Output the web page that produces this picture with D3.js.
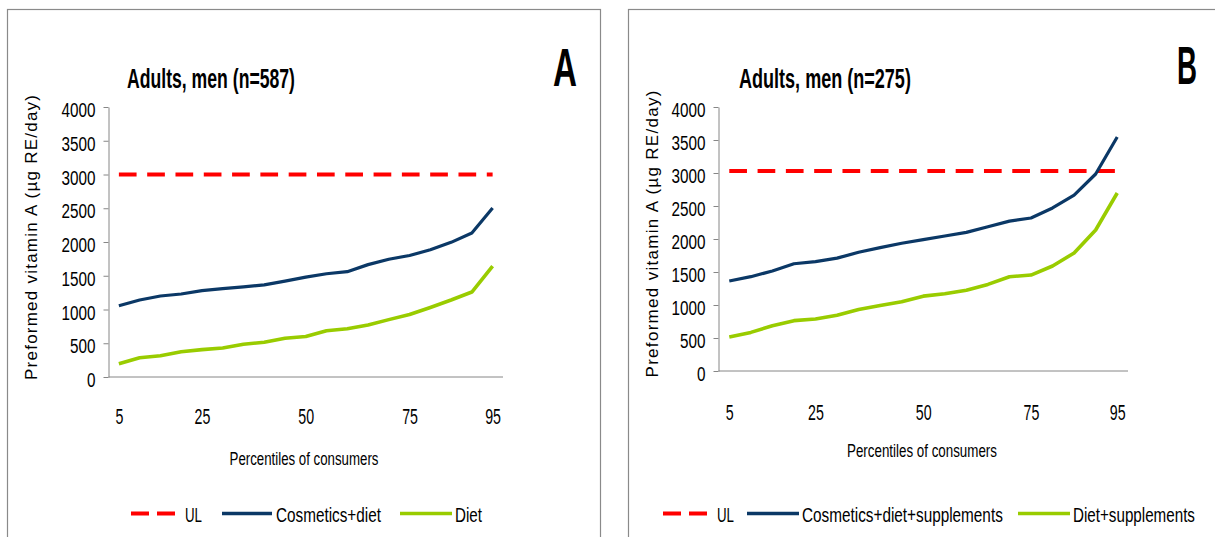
<!DOCTYPE html>
<html>
<head>
<meta charset="utf-8">
<script src="https://cdn.jsdelivr.net/npm/d3@7"></script>
<style>
  html, body { margin: 0; padding: 0; background: #fff; }
  svg { display: block; font-family: "Liberation Sans", Arial, sans-serif; }
</style>
</head>
<body>
<svg id="chart" width="1215" height="537"></svg>
<script>
// ---------------- data ----------------
const percentiles = [5, 10, 15, 20, 25, 30, 35, 40, 45, 50, 55, 60, 65, 70, 75, 80, 85, 90, 95];
const xTickLabels = [5, 25, 50, 75, 95];
const yTicks = [0, 500, 1000, 1500, 2000, 2500, 3000, 3500, 4000];

// Panel A – Adults, men (n=587)
const cosmeticsDietA = [1055, 1140, 1200, 1230, 1280, 1310, 1335, 1365, 1420, 1480, 1530, 1560, 1665, 1745, 1800, 1885, 1995, 2133, 2503];
const dietA          = [195, 285, 315, 375, 405, 430, 485, 515, 575, 600, 685, 715, 770, 850, 925, 1030, 1140, 1259, 1644];
const ulA = 3000;

// Panel B – Adults, men (n=275)
const cosmeticsDietSuppB = [1364, 1429, 1515, 1625, 1658, 1710, 1799, 1869, 1935, 1990, 2045, 2100, 2186, 2271, 2318, 2470, 2666, 2985, 3545];
const dietSuppB          = [515, 585, 686, 763, 788, 844, 931, 992, 1048, 1134, 1170, 1225, 1312, 1429, 1454, 1591, 1788, 2136, 2697];
const ulB = 3030;

const panelLetters = ["A", "B"];
const panelTitles = ["Adults, men (n=587)", "Adults, men (n=275)"];
const legendLabelsA = ["UL", "Cosmetics+diet", "Diet"];
const legendLabelsB = ["UL", "Cosmetics+diet+supplements", "Diet+supplements"];
const yAxisTitle = "Preformed vitamin A (\u00b5g RE/day)";
const xAxisTitle = "Percentiles of consumers";

// ---------------- layout ----------------
const COL = { ul: "#ff0000", cos: "#0b3866", diet: "#99cc00", axis: "#868686", border: "#8a8a8a", text: "#000" };

const panels = [
  {
    letter: panelLetters[0], title: panelTitles[0], ul: ulA,
    series: [cosmeticsDietA, dietA], legendLabels: legendLabelsA,
    border: { x: 7.5, y: 9.5, w: 593, h: 600 },
    xr: [108.5, 503], yr: [377, 107], xPad: 31,
    yTitle: { bx: 37, cy: 237.5, len: 285 },
    titleBox: { x: 127, base: 88, w: 168 },
    letterBox: { x: 553, base: 86, w: 24 },
    xTitle: { cx: 304, base: 465, w: 149 },
    legend: [[131, 176, 185, 17], [222, 272, 276, 105], [400, 452, 455, 27]]
  },
  {
    letter: panelLetters[1], title: panelTitles[1], ul: ulB,
    series: [cosmeticsDietSuppB, dietSuppB], legendLabels: legendLabelsB,
    border: { x: 628.5, y: 9.5, w: 700, h: 600 },
    xr: [718.5, 1128], yr: [371, 107], xPad: 33.5,
    yTitle: { bx: 658, cy: 234, len: 287 },
    titleBox: { x: 739, base: 88, w: 172 },
    letterBox: { x: 1177, base: 84, w: 20 },
    xTitle: { cx: 922, base: 457, w: 150 },
    legend: [[663, 708, 717, 17], [747, 799, 802, 201], [1018, 1070, 1073, 122]]
  }
];

const svg = d3.select("#chart");

// condense a text horizontally to a target width via a transform (keeps a true bounding box)
function fitWidth(sel, w) {
  sel.each(function () {
    const t = d3.select(this);
    const x = +t.attr("x") || 0, y = +t.attr("y") || 0;
    const L = this.getComputedTextLength();
    t.attr("x", 0).attr("y", 0)
     .attr("transform", `translate(${x},${y}) scale(${w / L},1)`);
  });
}
function squeeze(sel, k) {
  sel.each(function () {
    const L = this.getComputedTextLength();
    d3.select(this).attr("textLength", L * k).attr("lengthAdjust", "spacingAndGlyphs");
  });
}

panels.forEach(p => {
  const g = svg.append("g");

  // border (open at the bottom / right, as cropped in the reference)
  g.append("rect")
    .attr("x", p.border.x).attr("y", p.border.y)
    .attr("width", p.border.w).attr("height", p.border.h)
    .attr("fill", "none").attr("stroke", COL.border).attr("stroke-width", 1.2);

  const x = d3.scalePoint().domain(percentiles).range(p.xr).padding(0.5);
  const y = d3.scaleLinear().domain([0, 4000]).range(p.yr);

  // y axis
  const yAx = g.append("g").attr("transform", `translate(${p.xr[0]},0)`)
    .call(d3.axisLeft(y).tickValues(yTicks).tickFormat(d3.format("d"))
      .tickSize(5).tickPadding(8).tickSizeOuter(0));
  yAx.select(".domain").attr("stroke", COL.axis);
  yAx.selectAll(".tick line").attr("stroke", COL.axis);
  const yt = yAx.selectAll(".tick text")
    .attr("font-family", '"Liberation Sans", Arial, sans-serif')
    .attr("font-size", 20).attr("fill", COL.text).attr("dy", "0.48em");
  const refY = yt.filter(d => d === 4000).node().getComputedTextLength();
  squeeze(yt, 34 / refY);

  // x axis
  const xAx = g.append("g").attr("transform", `translate(0,${p.yr[0]})`)
    .call(d3.axisBottom(x).tickValues(xTickLabels).tickSize(0).tickPadding(p.xPad).tickSizeOuter(0));
  xAx.select(".domain").attr("stroke", COL.axis).attr("d", `M${p.xr[0]},0H${p.xr[1]}`);
  const xt = xAx.selectAll(".tick text")
    .attr("font-family", '"Liberation Sans", Arial, sans-serif')
    .attr("font-size", 22).attr("fill", COL.text);
  const refX = xt.filter(d => d === 25).node().getComputedTextLength();
  squeeze(xt, 15.8 / refX);

  // UL dashed line
  const ulLine = d3.line().x(d => x(d)).y(() => y(p.ul));
  g.append("path").datum([percentiles[0], percentiles[percentiles.length - 1]])
    .attr("d", ulLine).attr("fill", "none")
    .attr("stroke", COL.ul).attr("stroke-width", 4).attr("stroke-dasharray", "17.7,10.6");

  // series lines
  const line = d3.line().x((d, i) => x(percentiles[i])).y(d => y(d));
  [COL.cos, COL.diet].forEach((c, si) => {
    g.append("path").datum(p.series[si])
      .attr("d", line).attr("fill", "none")
      .attr("stroke", c).attr("stroke-width", si === 0 ? 3.2 : 3.6)
      .attr("stroke-linejoin", "round").attr("stroke-linecap", "butt");
  });

  // title
  g.append("text").text(p.title)
    .attr("x", p.titleBox.x).attr("y", p.titleBox.base)
    .attr("font-size", 27).attr("font-weight", "bold").attr("fill", COL.text)
    .call(fitWidth, p.titleBox.w);

  // big panel letter
  g.append("text").text(p.letter)
    .attr("x", p.letterBox.x).attr("y", p.letterBox.base)
    .attr("font-size", 54).attr("font-weight", "bold").attr("fill", COL.text)
    .call(fitWidth, p.letterBox.w);

  // y axis title
  g.append("text").text(yAxisTitle)
    .attr("transform", `translate(${p.yTitle.bx},${p.yTitle.cy}) rotate(-90)`)
    .attr("text-anchor", "middle")
    .attr("font-size", 17).attr("fill", COL.text)
    .attr("textLength", p.yTitle.len).attr("lengthAdjust", "spacing");

  // x axis title
  g.append("text").text(xAxisTitle)
    .attr("x", p.xTitle.cx).attr("y", p.xTitle.base)
    .attr("text-anchor", "middle")
    .attr("font-size", 18).attr("fill", COL.text)
    .call(fitWidth, p.xTitle.w);

  // legend
  const legendY = 513.5;
  const legendStyles = [
    { c: COL.ul, w: 4, dash: "18,8" },
    { c: COL.cos, w: 3.6, dash: null },
    { c: COL.diet, w: 3.6, dash: null }
  ];
  p.legend.forEach((L, i) => {
    g.append("line")
      .attr("x1", L[0]).attr("x2", L[1]).attr("y1", legendY).attr("y2", legendY)
      .attr("stroke", legendStyles[i].c).attr("stroke-width", legendStyles[i].w)
      .attr("stroke-dasharray", legendStyles[i].dash);
    g.append("text").text(p.legendLabels[i])
      .attr("x", L[2]).attr("y", 521.5)
      .attr("font-size", 20).attr("fill", COL.text)
      .call(fitWidth, L[3]);
  });
});
</script>
</body>
</html>
